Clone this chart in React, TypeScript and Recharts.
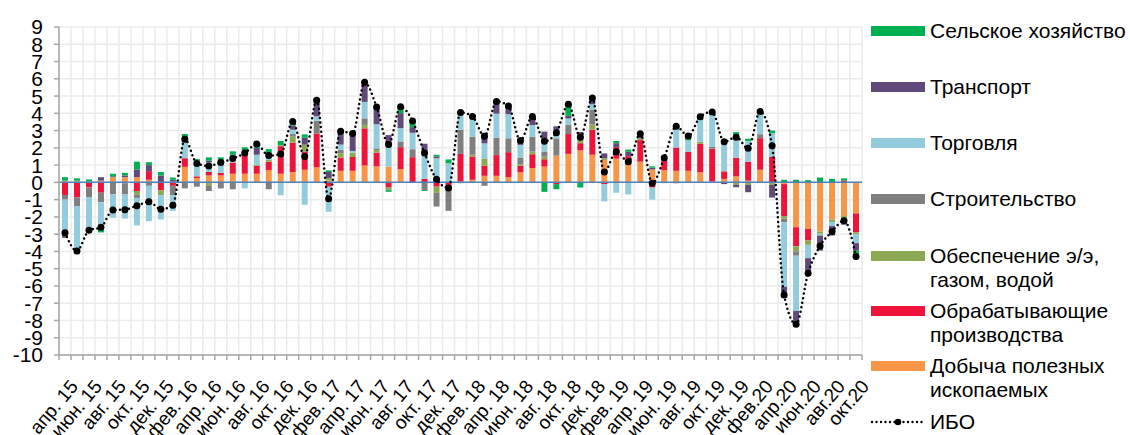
import { Bar, CartesianGrid, ComposedChart, Line, ReferenceLine, XAxis, YAxis } from "recharts"

const months = [
  "апр. 15", "май. 15", "июн. 15", "июл. 15", "авг. 15", "сен. 15", "окт. 15", "ноя. 15", "дек. 15",
  "янв. 16", "фев. 16", "мар. 16", "апр. 16", "май. 16", "июн. 16", "июл. 16", "авг. 16", "сен. 16", "окт. 16", "ноя. 16", "дек. 16",
  "янв. 17", "фев. 17", "мар. 17", "апр. 17", "май. 17", "июн. 17", "июл. 17", "авг. 17", "сен. 17", "окт. 17", "ноя. 17", "дек. 17",
  "янв. 18", "фев. 18", "мар. 18", "апр. 18", "май. 18", "июн. 18", "июл. 18", "авг. 18", "сен. 18", "окт. 18", "ноя. 18", "дек. 18",
  "янв. 19", "фев. 19", "мар. 19", "апр. 19", "май. 19", "июн. 19", "июл. 19", "авг. 19", "сен. 19", "окт. 19", "ноя. 19", "дек. 19",
  "янв.20", "фев.20", "мар.20", "апр.20", "май.20", "июн.20", "июл.20", "авг.20", "сен.20", "окт.20",
]

const yTicks = [-10, -9, -8, -7, -6, -5, -4, -3, -2, -1, 0, 1, 2, 3, 4, 5, 6, 7, 8, 9]

// Добыча полезных ископаемых
const dobycha = [
  0.1, 0.05, 0.05, 0.1, 0.3, 0.3, 0.3, 0.15, 0, 0.05,
  0.9, 0.25, 0.4, 0.4, 0.5, 0.5, 0.5, 0.7, 0.5, 0.6,
  0.73, 0.87, 0.1, 0.67, 0.67, 0.98, 0.92, 0.92, 0.77, 0,
  0, 0, 0, 0.05, 0.15, 0.38, 0.38, 0.3, 0.58, 0.83,
  0.92, 1.55, 1.65, 1.85, 1.6, 1.3, 1.37, 1.1, 1.2, 0.75,
  0.7, 0.67, 0.67, 0.58, 0.05, 0.2, 0.35, 0.1, 0.73, 0,
  -0.1, -2.6, -2.7, -2.85, -2.15, -1.95, -1.8,
]

// Обрабатывающие производства
const obrab = [
  -0.73, -0.87, -0.3, -0.6, 0, -0.05, -0.5, 0.5, -0.45, -0.2,
  0.5, 0.1, 0.2, 0.15, 0.65, 1.15, 0.45, 0.5, 1.6, 1.7,
  1.05, 1.95, -0.25, 0.77, 0.8, 2.15, 0.8, -0.3, 1.27, 1.46,
  0.2, -0.25, -0.3, 1.6, 1.35, 0.58, 1.2, 1.45, 0.38, 0.8,
  0.42, -0.1, 1.15, 0.42, 1.45, -0.1, 0.67, 0.42, 1.25, -0.3,
  0.75, 1.35, 1.1, 1.65, 1.9, 0.44, 1.08, 1.1, 1.83, 1.5,
  -1.85, -1.1, -0.67, 0, 0, 0.1, -1.1,
]

// Обеспечение э/э, газом, водой
const energy = [
  0, 0.05, 0, 0, 0, 0, -0.2, 0, -0.3, 0,
  0, 0, -0.2, 0, 0, 0, 0.05, 0.1, 0.05, 0.35,
  0.4, 0, 0.15, 0.25, 0.25, 0.2, 0.15, -0.1, 0, 0,
  0, -0.35, -0.2, -0.05, 0.1, 0.4, 0, 0, 0.1, 0.15,
  0.15, 0, 0, 0.2, 0.3, 0.1, 0, 0, 0.1, 0,
  0, 0, 0, 0.13, 0, 0, -0.15, -0.15, 0, -0.15,
  -0.15, -0.3, -0.25, -0.13, -0.15, -0.2, -0.1,
]

// Строительство
const stroy = [
  -0.27, -0.5, -0.55, -0.55, -0.7, -0.65, -0.2, -0.2, 0, -0.55,
  -0.35, -0.25, -0.3, -0.35, -0.4, 0, 0, -0.4, 0, 0.15,
  0, 0.75, 0, 0.2, 0, 0.38, 0.1, -0.05, 0.33, 0.46,
  -0.45, -0.8, -1.15, 1.4, 1.05, -0.2, 1.0, 0.8, 0.38, 0.87,
  0.3, 1.0, 0.52, 0.2, 0.87, 0, 0, 0, 0, 0,
  0, 0, 0, 0, 0.13, 0, 0, 0, 0.23, 0,
  -0.2, -0.25, 0, 0, 0, 0, 0,
]

// Торговля
const torg = [
  -2.08, -2.8, -1.95, -1.6, -1.35, -1.4, -1.6, -2.05, -1.4, -0.9,
  0.95, 0.85, 0.55, 0.6, 0.3, -0.35, 0.6, 0.2, -0.75, 0.25,
  -1.3, 0.25, -1.45, 0.3, 0.1, 0.95, 1.4, 1.15, 0.77, 0.95,
  1.5, 1.4, 1.1, 1.05, 1.15, 0.9, 1.4, 1.4, 0.73, 0.67,
  0.7, 0.45, 0.38, 0, 0.3, -1.0, -0.6, -0.7, 0, -0.7,
  -0.05, 1.1, 0.67, 1.25, 1.85, 1.8, 1.25, 1.2, 1.2, 1.35,
  -3.75, -3.2, -0.77, -0.1, -0.23, 0, -0.52,
]

// Транспорт
const transp = [
  -0.13, 0, -0.1, 0.2, 0.05, 0.1, 0.45, 0.35, 0.4, 0.1,
  0.2, 0, 0.1, 0.1, 0.15, 0.1, 0.4, 0.2, 0, 0.25,
  0.4, 0.95, 0.35, 0.77, 1.0, 1.15, 1.0, 0.67, 0.87, 0.33,
  0.54, 0.1, 0, 0, 0, 0.48, 0.7, 0.48, 0.25, 0.48,
  0.45, 0.25, 0.15, 0.25, 0.38, 0.28, 0.23, 0.25, 0.25, 0.1,
  0, -0.05, 0, 0, 0, -0.1, -0.13, -0.42, 0, -0.73,
  -0.63, -0.92, -1.0, -0.87, -0.55, -0.3, -0.44,
]

// Сельское хозяйство
const selkhoz = [
  0.2, 0.13, 0.12, -0.15, 0.15, 0.15, 0.45, 0.17, 0.2, 0.13,
  0.25, 0.15, 0.2, 0.2, 0.2, 0.28, 0.2, 0.23, 0.25, 0.2,
  0.2, 0.1, 0.1, 0, 0, 0, 0, -0.1, 0.38, 0.35,
  -0.05, 0.1, 0.23, 0, 0, 0.13, 0, 0, 0, 0,
  -0.55, -0.3, 0.67, -0.3, 0, 0, 0.13, 0.13, 0, 0.08,
  0, 0.15, 0.25, 0.2, 0.15, 0, 0.23, 0.13, 0.1, 0.15,
  0.15, 0.15, 0.13, 0.28, 0.2, 0.13, -0.33,
]

// ИБО
const ibo = [
  -2.92, -3.97, -2.78, -2.6, -1.6, -1.58, -1.35, -1.12, -1.55, -1.32,
  2.5, 1.1, 0.95, 1.15, 1.38, 1.7, 2.22, 1.55, 1.65, 3.52,
  1.5, 4.75, -0.95, 2.96, 2.83, 5.8, 4.37, 2.2, 4.38, 3.55,
  1.7, 0.18, -0.32, 4.05, 3.82, 2.67, 4.68, 4.43, 2.42, 3.82,
  2.38, 2.88, 4.52, 2.62, 4.88, 0.6, 1.78, 1.2, 2.82, -0.05,
  1.42, 3.25, 2.68, 3.8, 4.08, 2.35, 2.62, 1.97, 4.1, 2.12,
  -6.52, -8.22, -5.26, -3.68, -2.85, -2.22, -4.3,
]

const series = [
  { key: "dobycha", name: "Добыча полезных\nископаемых", color: "#F79646", values: dobycha },
  { key: "obrab", name: "Обрабатывающие\nпроизводства", color: "#EE1439", values: obrab },
  { key: "energy", name: "Обеспечение э/э,\nгазом, водой", color: "#8DA852", values: energy },
  { key: "stroy", name: "Строительство", color: "#7F7F7F", values: stroy },
  { key: "torg", name: "Торговля", color: "#93CDDD", values: torg },
  { key: "transp", name: "Транспорт", color: "#604A7B", values: transp },
  { key: "selkhoz", name: "Сельское хозяйство", color: "#00B050", values: selkhoz },
]

// positive parts stack upward from zero, negative parts stack downward (Excel-style)
const data = months.map((month, i) => {
  const row: Record<string, string | number> = { month, ibo: ibo[i] }
  series.forEach((s) => {
    row[s.key + "Pos"] = Math.max(s.values[i], 0)
    row[s.key + "Neg"] = Math.min(s.values[i], 0)
  })
  return row
})

const CHART_W = 870
const CHART_H = 435
const Y_AXIS_W = 59
const MARGIN = { top: 27, right: 8, bottom: 0, left: 0 }
const BAND = (CHART_W - MARGIN.left - MARGIN.right - Y_AXIS_W) / months.length
const FONT = "'Liberation Sans', Arial, sans-serif"
const AXIS_COLOR = "#A6A6A6"

const XTick = (props: any) => {
  const { x, y, payload, index } = props
  const half = payload && payload.offset ? payload.offset : BAND / 2
  const tx = x + 14
  const ty = y + 32
  return (
    <g>
      <line x1={x - half} x2={x - half} y1={y} y2={y + 5} stroke={AXIS_COLOR} strokeWidth={1.5} />
      {index === months.length - 1 && (
        <line x1={x + half} x2={x + half} y1={y} y2={y + 5} stroke={AXIS_COLOR} strokeWidth={1.5} />
      )}
      {index % 2 === 0 && (
        <text
          x={tx}
          y={ty}
          textAnchor="end"
          transform={`rotate(-50, ${tx}, ${ty})`}
          fontSize={19}
          fontFamily={FONT}
          fill="#000"
        >
          {payload.value}
        </text>
      )}
    </g>
  )
}

const legendTops = [31, 87, 143, 199, 256, 311, 366]

const LegendBox = () => {
  const items = [...series].reverse()
  return (
    <div style={{ position: "absolute", left: 870, top: 0, width: 260, height: 435, fontFamily: FONT, fontSize: 21, color: "#000" }}>
      {items.map((s, i) => (
        <div key={s.key} style={{ position: "absolute", left: 0, top: legendTops[i] - 12, width: 260 }}>
          <div style={{ position: "absolute", left: 1, top: 7, width: 54, height: 10, background: s.color }} />
          <div style={{ position: "absolute", left: 60, top: 0, lineHeight: "24px", whiteSpace: "pre" }}>{s.name}</div>
        </div>
      ))}
      <div style={{ position: "absolute", left: 0, top: 422 - 12, width: 260 }}>
        <svg width={56} height={24} style={{ position: "absolute", left: 0, top: 0 }}>
          <line x1={2} x2={54} y1={12} y2={12} stroke="#000" strokeWidth={2.4} strokeDasharray="0 4.5" strokeLinecap="round" />
          <circle cx={28} cy={12} r={3.3} fill="#000" />
        </svg>
        <div style={{ position: "absolute", left: 60, top: 0, lineHeight: "24px" }}>ИБО</div>
      </div>
    </div>
  )
}

export default function App() {
  return (
    <div style={{ position: "absolute", left: 0, top: 0, width: 1130, height: 435, background: "#fff", overflow: "hidden" }}>
      <ComposedChart width={CHART_W} height={CHART_H} data={data} margin={MARGIN}>
        <CartesianGrid
          stroke="#EBEBEB"
          strokeWidth={1.5}
          verticalCoordinatesGenerator={({ offset }: any) =>
            Array.from({ length: months.length + 1 }, (_, i) => offset.left + (i * offset.width) / months.length)
          }
        />
        <XAxis
          dataKey="month"
          interval={0}
          tickSize={0}
          tickMargin={0}
          tickLine={false}
          height={80}
          axisLine={{ stroke: AXIS_COLOR, strokeWidth: 1.5 }}
          tick={<XTick />}
        />
        <XAxis xAxisId="neg" dataKey="month" hide />
        <YAxis
          width={Y_AXIS_W}
          domain={[-10, 9]}
          ticks={yTicks}
          interval={0}
          tickSize={5}
          tickMargin={11}
          axisLine={{ stroke: AXIS_COLOR, strokeWidth: 1.5 }}
          tickLine={{ stroke: AXIS_COLOR, strokeWidth: 1.5 }}
          tick={{ fontSize: 21, fill: "#000", fontFamily: FONT }}
        />
        {series.map((s) => (
          <Bar
            key={s.key + "Pos"}
            dataKey={s.key + "Pos"}
            name={s.name}
            stackId="pos"
            barSize={6}
            fill={s.color}
            isAnimationActive={false}
          />
        ))}
        {series.map((s) => (
          <Bar
            key={s.key + "Neg"}
            dataKey={s.key + "Neg"}
            name={s.name}
            xAxisId="neg"
            stackId="neg"
            barSize={6}
            fill={s.color}
            isAnimationActive={false}
          />
        ))}
        <ReferenceLine y={0} stroke="#4F81BD" strokeWidth={1.5} />
        <Line
          type="monotone"
          dataKey="ibo"
          name="ИБО"
          stroke="#000"
          strokeWidth={2.5}
          strokeDasharray="0 4.6"
          strokeLinecap="round"
          dot={{ r: 3.5, fill: "#000", stroke: "#000", strokeWidth: 0 }}
          isAnimationActive={false}
        />
      </ComposedChart>
      <LegendBox />
    </div>
  )
}
